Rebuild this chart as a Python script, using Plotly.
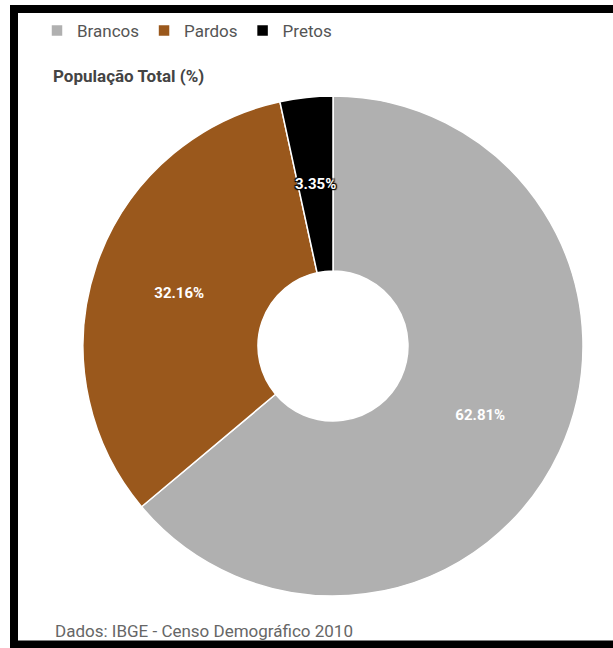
import math
import plotly.graph_objects as go

categories = ["Brancos", "Pardos", "Pretos"]
values = [62.81, 32.16, 3.35]
colors = ["#b0b0b0", "#9a581c", "#000000"]
title_text = "População Total (%)"
source_text = "Dados: IBGE - Censo Demográfico 2010"

W, H = 613, 648
cx, cy, r = 333, 346, 250
hole = 0.3

# Labels for the big slices are drawn by the pie; the thin "Pretos" one overflows its slice
texts = ["%.2f%%" % v for v in values]
pie_texts = [t if v > 10 else "" for t, v in zip(texts, values)]

fig = go.Figure()
fig.add_trace(go.Pie(
    labels=categories,
    values=values,
    sort=False,
    direction="clockwise",
    rotation=0,
    hole=hole,
    marker=dict(colors=colors, line=dict(color="white", width=1.5)),
    text=pie_texts,
    textinfo="text",
    textposition="inside",
    insidetextorientation="horizontal",
    textfont=dict(family="Roboto", size=15, color="white", weight="bold"),
    hoverinfo="label+percent",
    domain=dict(x=[(cx - r) / W, (cx + r) / W],
                y=[(H - cy - r) / H, (H - cy + r) / H]),
))

# overflow label for small slices, placed at the slice's mid angle / mid radius
annotations = []
total = sum(values)
cum = 0.0
for t, v in zip(texts, values):
    mid = (cum + v / 2) / total * 2 * math.pi
    cum += v
    if v > 10:
        continue
    rr = r * (1 + hole) / 2
    px = cx + rr * math.sin(mid)
    py = cy - rr * math.cos(mid)
    annotations.append(dict(
        text="<b>" + t + "</b>", x=px / W, y=1 - py / H, xref="paper", yref="paper",
        xanchor="center", yanchor="middle", showarrow=False,
        font=dict(family="Roboto", size=15, color="white",
                  shadow="1px 1px 1px black, -1px -1px 1px black, 1px -1px 1px black, -1px 1px 1px black, 0 0 2px black")))

annotations.append(dict(text=source_text, x=53 / W, xanchor="left", y=1 - 631 / H, yanchor="middle",
                        xref="paper", yref="paper", showarrow=False,
                        font=dict(family="Roboto", size=17, color="#666666")))

fig.update_layout(
    width=W, height=H,
    margin=dict(l=0, r=0, t=0, b=0),
    paper_bgcolor="white",
    plot_bgcolor="white",
    font=dict(family="Roboto", color="#555555", size=17),
    showlegend=True,
    legend=dict(orientation="h", x=37 / W, xanchor="left", y=1 - 31 / H, yanchor="middle",
                font=dict(family="Roboto", size=17, color="#555555"),
                traceorder="normal", itemclick=False),
    title=dict(text="<b>" + title_text + "</b>", x=53 / W, xanchor="left",
               y=1 - 76 / H, yanchor="middle", xref="container", yref="container",
               font=dict(family="Roboto", size=17, color="#444444")),
    annotations=annotations,
    shapes=[dict(type="rect", xref="paper", yref="paper",
                 x0=14 / W, x1=1.05, y0=1 - 644.5 / H, y1=1 - 9 / H,
                 line=dict(color="black", width=8), fillcolor="rgba(0,0,0,0)", layer="above")],
)

fig.write_html("out.html")
